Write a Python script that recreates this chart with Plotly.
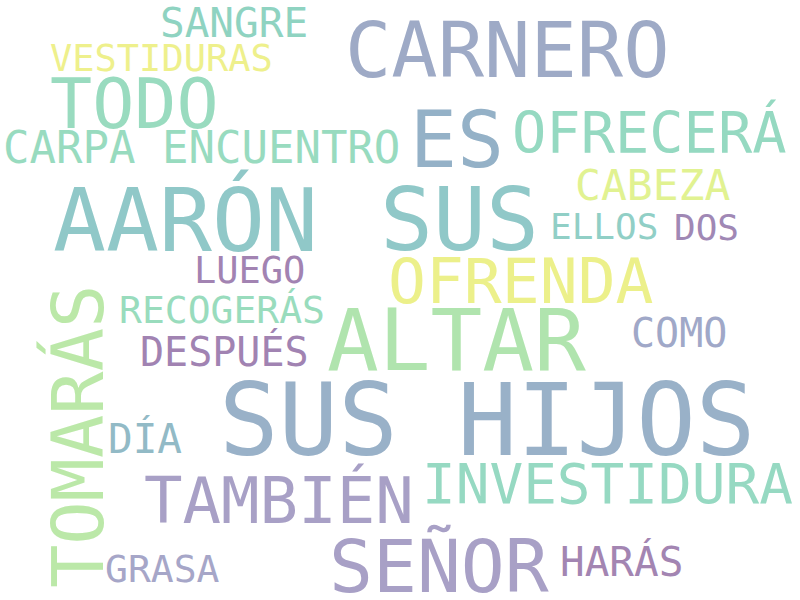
import plotly.graph_objects as go

# Word cloud data
words = ["SANGRE", "VESTIDURAS", "TODO", "CARPA ENCUENTRO", "CARNERO", "ES", "OFRECERÁ",
         "CABEZA", "ELLOS", "DOS", "SUS", "AARÓN", "LUEGO", "RECOGERÁS", "DESPUÉS",
         "OFRENDA", "ALTAR", "COMO", "SUS HIJOS", "DÍA", "INVESTIDURA", "TAMBIÉN",
         "SEÑOR", "HARÁS", "GRASA", "TOMARÁS"]
weights = [41, 37, 70, 44, 77, 78, 57, 43, 36, 36, 88, 88, 37, 38, 40,
           63, 86, 40, 99, 41, 56, 64, 73, 41, 38, 72]

# Layout of the cloud (pixel canvas 800x600): word center x, baseline y, rotation
pos_x = [234, 161.5, 134, 201.5, 507.5, 457, 649, 652.5, 604, 706.5, 459, 185, 249.5, 222, 224,
         521, 456, 679, 486.5, 144.5, 607.5, 278.5, 439, 621, 162.5, 103]
pos_y = [37, 71, 128, 163, 77, 167, 152, 200, 239, 240, 250, 251, 283, 323, 365,
         303, 370, 347, 455, 453, 503, 523, 592, 576, 582, 437]
angles = [0] * 25 + [-90]
colors = ["#8fd3c1", "#eef08c", "#99dbbf", "#98dbbf", "#9eaac6", "#94b1c7", "#95d9c1",
          "#e1f291", "#91cfc6", "#a088b5", "#90c8c8", "#90c8c8", "#a283b2", "#99dcbd",
          "#a183b2", "#ecf08a", "#b0e4ae", "#a0a8c8", "#99b1c8", "#92bac6", "#96d9c2",
          "#a8a0c6", "#a8a0c6", "#a385b2", "#a6a6c8", "#bbe8a8"]

FONT = "DejaVu Sans Mono"
OFF = 0.346  # baseline offset from text-box middle, in em

fig = go.Figure()
annotations = []
for w, fs, x, y, a, c in zip(words, weights, pos_x, pos_y, angles, colors):
    if a == 0:
        cx, cy = x, y - OFF * fs
    else:
        cx, cy = x - OFF * fs, y
    annotations.append(dict(
        x=cx, y=cy, xref="x", yref="y", text=w, showarrow=False,
        xanchor="center", yanchor="middle", textangle=a, borderpad=0,
        font=dict(family=FONT, size=fs, color=c),
    ))

fig.update_layout(
    width=800, height=600,
    margin=dict(l=0, r=0, t=0, b=0),
    paper_bgcolor="white", plot_bgcolor="white",
    xaxis=dict(range=[0, 800], visible=False, fixedrange=True),
    yaxis=dict(range=[600, 0], visible=False, fixedrange=True),
    annotations=annotations,
    showlegend=False,
)
fig.write_html(
    "out.html",
    config={"displayModeBar": False, "staticPlot": True},
    post_script="document.body.style.margin='0';document.body.style.overflow='hidden';",
)
